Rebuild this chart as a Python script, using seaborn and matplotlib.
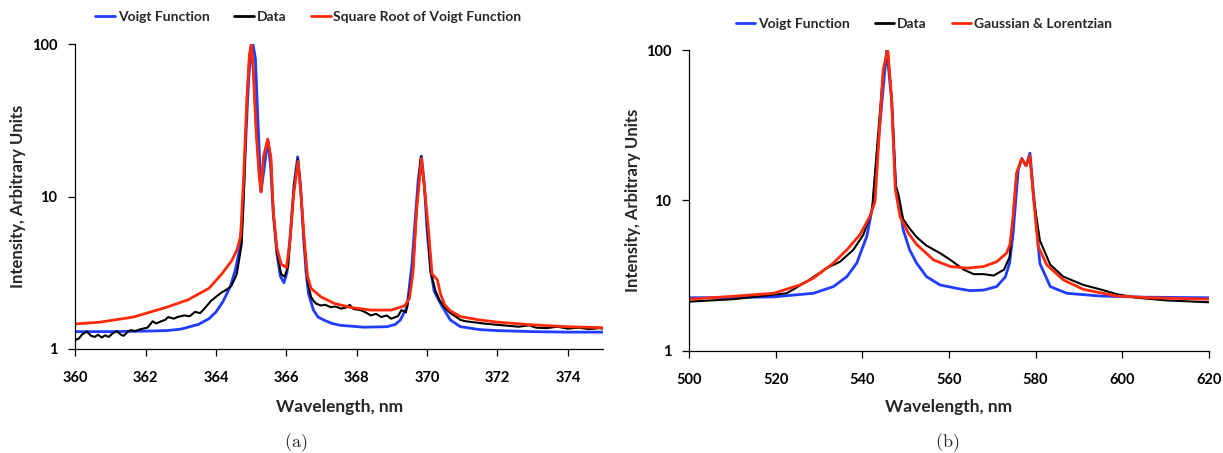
import numpy as np
import pandas as pd
import matplotlib
matplotlib.use("Agg")
import matplotlib.pyplot as plt
import seaborn as sns

# ---------------- data: panel (a) ----------------
a_voigt_x = [360.0, 361.0, 362.0, 362.6, 363.0, 363.5, 363.8, 364.0, 364.2, 364.4, 364.55, 364.65,
             364.75, 364.85, 364.93, 365.0, 365.05, 365.12, 365.2, 365.28, 365.38, 365.47, 365.55,
             365.63, 365.73, 365.83, 365.93, 366.02, 366.12, 366.22, 366.32, 366.4, 366.49, 366.56,
             366.63, 366.77, 366.9, 367.06, 367.3, 367.53, 368.2, 368.86, 369.1, 369.24, 369.43,
             369.57, 369.65, 369.75, 369.84, 369.92, 370.0, 370.1, 370.2, 370.38, 370.66, 370.95,
             371.5, 372.0, 373.0, 374.0, 375.0]
a_voigt_y = [1.30, 1.30, 1.31, 1.32, 1.35, 1.45, 1.58, 1.75, 2.05, 2.55, 3.3, 4.3,
             7.0, 25, 60, 97, 100, 80, 28, 10.8, 16, 23.5, 16,
             7.6, 4.2, 3.0, 2.72, 3.2, 6, 12, 18.2, 12, 5.3, 3.2,
             2.3, 1.80, 1.62, 1.55, 1.47, 1.43, 1.39, 1.40, 1.45, 1.55, 1.89,
             3.6, 6.5, 13, 18.4, 12, 6.0, 3.3, 2.4, 1.99, 1.55, 1.40,
             1.34, 1.32, 1.30, 1.29, 1.29]

a_data_x = [360.0, 360.1, 360.2, 360.33, 360.45, 360.55, 360.65, 360.75, 360.85, 360.95, 361.05,
            361.18, 361.3, 361.37, 361.5, 361.57, 361.7, 361.86, 362.05, 362.2, 362.3, 362.44,
            362.55, 362.64, 362.8, 362.9, 363.1, 363.25, 363.4, 363.55, 363.67, 363.86, 364.0,
            364.16, 364.3, 364.44, 364.59, 364.73, 364.8, 364.88, 364.95, 365.0, 365.06, 365.14,
            365.23, 365.28, 365.35, 365.47, 365.56, 365.63, 365.73, 365.85, 365.95, 366.05,
            366.15, 366.22, 366.33, 366.42, 366.5, 366.6, 366.7, 366.77, 366.85, 366.98, 367.1,
            367.26, 367.4, 367.55, 367.7, 367.8, 367.9, 368.1, 368.25, 368.4, 368.55, 368.7,
            368.85, 368.98, 369.1, 369.17, 369.27, 369.4, 369.46, 369.6, 369.7, 369.82, 369.95,
            370.1, 370.24, 370.35, 370.48, 370.66, 370.8, 370.95, 371.1, 371.3, 371.6, 372.0,
            372.3, 372.6, 372.9, 373.1, 373.4, 373.7, 374.0, 374.3, 374.6, 374.9, 375.0]
a_data_y = [1.15, 1.17, 1.25, 1.30, 1.22, 1.20, 1.24, 1.19, 1.23, 1.20, 1.26,
            1.31, 1.24, 1.22, 1.30, 1.33, 1.31, 1.35, 1.38, 1.52, 1.47, 1.52,
            1.55, 1.62, 1.58, 1.62, 1.66, 1.64, 1.75, 1.72, 1.84, 2.07, 2.2,
            2.35, 2.45, 2.6, 3.1, 4.9, 12, 45, 85, 99, 67, 27,
            13.5, 10.7, 18.2, 23.8, 18, 7.8, 4.4, 3.1, 2.98, 3.5,
            7, 12, 17.5, 10, 5.3, 2.8, 2.2, 2.07, 1.98, 1.93, 1.95,
            1.88, 1.90, 1.84, 1.87, 1.95, 1.83, 1.80, 1.74, 1.66, 1.70, 1.62,
            1.66, 1.58, 1.62, 1.64, 1.80, 1.74, 2.07, 3.3, 8, 18.2, 10,
            3.2, 2.4, 2.1, 1.89, 1.72, 1.64, 1.55, 1.52, 1.50, 1.47, 1.44,
            1.42, 1.40, 1.43, 1.38, 1.37, 1.40, 1.36, 1.38, 1.35, 1.37, 1.36]

a_sqrt_x = [360.0, 360.7, 361.65, 362.6, 363.2, 363.8, 364.16, 364.45, 364.6, 364.7, 364.78,
            364.88, 364.95, 365.0, 365.06, 365.14, 365.23, 365.28, 365.35, 365.47, 365.56,
            365.63, 365.73, 365.85, 366.0, 366.1, 366.2, 366.33, 366.42, 366.5, 366.6, 366.7,
            366.98, 367.36, 367.84, 368.41, 368.98, 369.36, 369.5, 369.6, 369.7, 369.84, 369.95,
            370.04, 370.14, 370.29, 370.38, 370.5, 370.66, 370.95, 371.5, 372.0, 372.5, 373.0,
            373.5, 374.0, 374.5, 375.0]
a_sqrt_y = [1.46, 1.50, 1.62, 1.88, 2.1, 2.5, 3.1, 3.8, 4.5, 5.5, 12.8,
            45, 85, 99, 67, 27, 13.5, 10.7, 18.2, 23.8, 18,
            7.8, 4.6, 3.6, 3.42, 5, 10, 17, 10, 5.5, 3.0, 2.5,
            2.2, 1.99, 1.87, 1.80, 1.80, 1.92, 2.15, 3.2, 8, 17.8, 10,
            6.0, 3.1, 2.85, 2.3, 1.95, 1.78, 1.63, 1.55, 1.50, 1.47, 1.44,
            1.42, 1.40, 1.39, 1.38]

# ---------------- data: panel (b) ----------------
b_voigt_x = [500, 510, 519.5, 528.7, 533.3, 536.4, 538.7, 541.0, 542.5, 543.7, 545.6, 546.8,
             547.7, 548.7, 549.4, 550.9, 552.5, 554.8, 557.9, 561.7, 564.8, 568.0, 571.0, 573.0,
             574.0, 574.8, 576.0, 576.8, 577.8, 578.7, 579.9, 581.0, 583.4, 587.2, 594.9, 605, 620]
b_voigt_y = [2.25, 2.26, 2.28, 2.41, 2.67, 3.11, 3.83, 5.76, 9.6, 25, 100, 45,
             12, 9.1, 6.4, 4.69, 3.83, 3.11, 2.74, 2.6, 2.51, 2.53, 2.67, 3.09,
             3.83, 6.0, 16, 19, 17, 20.6, 8.5, 3.8, 2.67, 2.41, 2.31, 2.27, 2.25]

b_data_x = [500, 510.2, 522.5, 527.1, 531.7, 534.8, 537.9, 540.2, 542.2, 544.8, 545.85, 546.7,
            547.7, 548.3, 549.4, 550.9, 552.5, 554.8, 557.9, 560.3, 563.4, 565.7, 568.0, 570.3,
            572.7, 574.0, 574.8, 575.6, 576.8, 577.8, 578.7, 579.5, 581.0, 583.4, 586.4, 591.0,
            594.9, 598.7, 603.4, 610.3, 620]
b_data_y = [2.12, 2.2, 2.41, 2.88, 3.54, 3.9, 4.69, 5.9, 8.5, 72, 100, 49,
            12.5, 11, 7.5, 6.5, 5.7, 5.0, 4.46, 4.02, 3.46, 3.23, 3.23, 3.16,
            3.46, 4.2, 7.8, 15, 18.9, 17, 19.5, 10.6, 5.4, 3.73, 3.11, 2.74,
            2.56, 2.38, 2.25, 2.16, 2.1]

b_gl_x = [500, 510, 519.5, 525.6, 528.7, 533.3, 536.4, 539.4, 541.7, 542.9, 544.8, 545.85, 546.7,
          547.6, 548.7, 550.6, 552.5, 556.4, 560.3, 564.2, 568.0, 571.0, 573.3, 574.1, 574.8,
          575.6, 576.8, 577.8, 578.7, 579.5, 580.6, 582.6, 586.4, 591.0, 598.7, 606.4, 620]
b_gl_y = [2.2, 2.3, 2.41, 2.74, 3.04, 3.83, 4.69, 5.9, 7.8, 9.8, 74, 101, 49,
          11.8, 7.8, 6.06, 5.1, 4.02, 3.63, 3.54, 3.63, 3.9, 4.46, 5.1, 7.8,
          15.2, 18.9, 17.0, 19.8, 10.6, 4.94, 3.72, 2.96, 2.56, 2.31, 2.25, 2.2]

a_xticks = [360, 362, 364, 366, 368, 370, 372, 374]
b_xticks = [500, 520, 540, 560, 580, 600, 620]
y_ticks = [1, 10, 100]
y_ticklabels = ["1", "10", "100"]

BLUE = "#1f3cff"
RED = "#ff2a0a"
BLACK = "#000000"

sns.set_style("ticks")
plt.rcParams["font.family"] = ["Lato", "DejaVu Sans"]
plt.rcParams["font.weight"] = "bold"
plt.rcParams["mathtext.fontset"] = "cm"

W, H = 1223, 453
fig = plt.figure(figsize=(W / 100, H / 100), dpi=100)

def fx(px):
    return px / W

def fy(py):
    return 1 - py / H

axA = fig.add_axes([fx(75.3), fy(349), fx(603) - fx(75.3), fy(44) - fy(349)])
axB = fig.add_axes([fx(689.3), fy(350.7), fx(1208.7) - fx(689.3), fy(50) - fy(350.7)])

def draw(ax, series, xlim, xticks, leg_center, leg_y):
    for xs, ys, col, lw, lab in series:
        df = pd.DataFrame({"x": xs, "y": ys})
        sns.lineplot(data=df, x="x", y="y", ax=ax, color=col, linewidth=lw,
                     estimator=None, sort=False, label=lab, legend=False)
    ax.set_yscale("log")
    ax.set_ylim(1, 100)
    ax.set_xlim(*xlim)
    ax.set_xticks(xticks)
    ax.set_xticklabels([str(t) for t in xticks])
    ax.set_yticks(y_ticks)
    ax.set_yticklabels(y_ticklabels)
    ax.yaxis.set_minor_locator(matplotlib.ticker.NullLocator())
    for s in ["top", "right"]:
        ax.spines[s].set_visible(False)
    for s in ["left", "bottom"]:
        ax.spines[s].set_color("black")
        ax.spines[s].set_linewidth(0.9)
    ax.tick_params(axis="x", direction="out", length=5, width=0.9, colors="black",
                   labelsize=10.5, pad=11)
    ax.tick_params(axis="y", direction="out", length=5, width=0.9, colors="black",
                   labelsize=10.5, pad=8)
    for t in ax.get_xticklabels() + ax.get_yticklabels():
        t.set_fontweight("bold")
    ax.set_xlabel("Wavelength, nm", fontsize=12.5, fontweight="bold")
    ax.set_ylabel("Intensity, Arbitrary Units", fontsize=12, fontweight="bold")
    lines = ax.get_lines()
    leg = fig.legend(handles=lines, labels=[s[4] for s in series], loc="center",
                     bbox_to_anchor=(leg_center, leg_y), ncol=3, frameon=False,
                     handlelength=1.4, handletextpad=0.2, columnspacing=1.8,
                     prop={"weight": "bold", "size": 10})
    for l in leg.get_lines():
        l.set_linewidth(2)

draw(axA, [(a_voigt_x, a_voigt_y, BLUE, 2.0, "Voigt Function"),
           (a_data_x, a_data_y, BLACK, 1.5, "Data"),
           (a_sqrt_x, a_sqrt_y, RED, 2.0, "Square Root of Voigt Function")],
     (360, 375), a_xticks, fx(308.5), fy(17))
draw(axB, [(b_voigt_x, b_voigt_y, BLUE, 2.0, "Voigt Function"),
           (b_data_x, b_data_y, BLACK, 1.5, "Data"),
           (b_gl_x, b_gl_y, RED, 2.0, "Gaussian & Lorentzian")],
     (500, 620), b_xticks, fx(924), fy(24))

for ax, ylab_px, ax_left, ax_w, ax_bot, ax_h in [
        (axA, 18, 75.3, 527.7, 349, 305),
        (axB, 633, 689.3, 519.4, 350.7, 300.7)]:
    ax.yaxis.set_label_coords((ylab_px - ax_left) / ax_w, 0.5)
    ax.yaxis.label.set_va("center")
    ax.xaxis.set_label_coords(0.5, (ax_bot - 407) / ax_h)
    ax.xaxis.label.set_va("center")

fig.text(fx(296), fy(443), r"$\mathrm{(a)}$", ha="center", va="center", fontsize=13)
fig.text(fx(947), fy(443), r"$\mathrm{(b)}$", ha="center", va="center", fontsize=13)

fig.savefig("out.png", dpi=100)
